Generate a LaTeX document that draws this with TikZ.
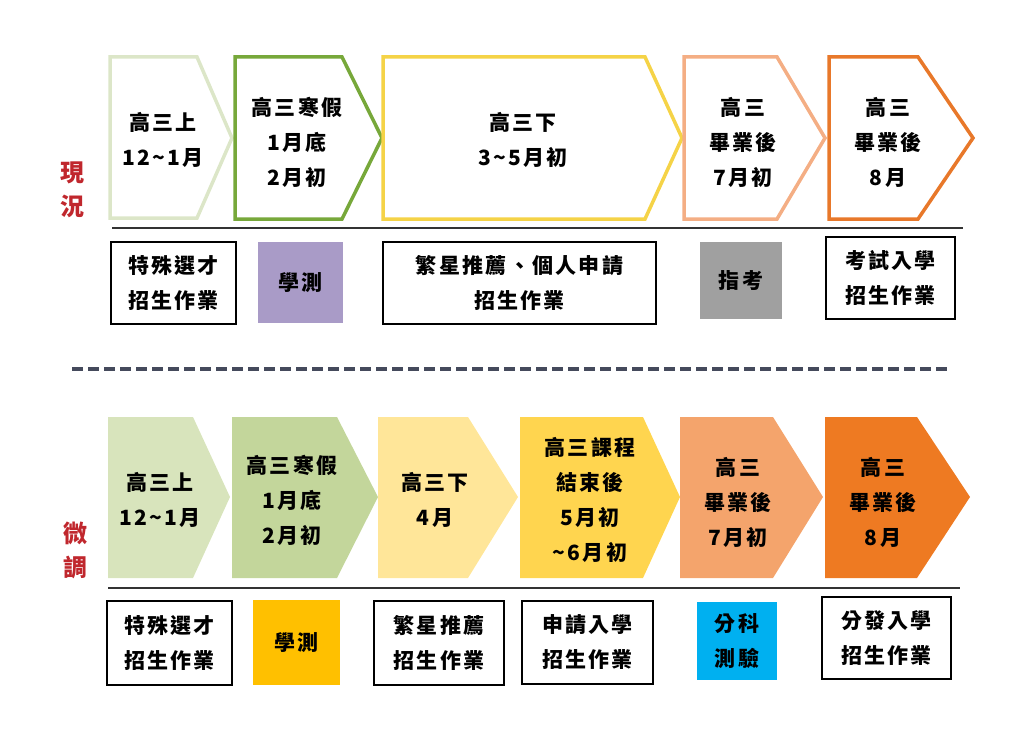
\documentclass[tikz,border=0pt]{standalone}
\usepackage{fontspec}
\setmainfont{Noto Sans CJK TC}[LetterSpace=11]
\newfontfamily\sidefont{Noto Sans CJK TC}
\definecolor{redlab}{HTML}{C0272D}
\definecolor{grnA}{HTML}{DCE6C8}
\definecolor{grnB}{HTML}{77A83A}
\definecolor{ylwA}{HTML}{F5D347}
\definecolor{orgA}{HTML}{F4AE84}
\definecolor{orgB}{HTML}{E8782A}
\definecolor{fillA}{HTML}{D8E4BC}
\definecolor{fillB}{HTML}{C3D69B}
\definecolor{fillC}{HTML}{FFE699}
\definecolor{fillD}{HTML}{FFD54F}
\definecolor{fillE}{HTML}{F4A46C}
\definecolor{fillF}{HTML}{EE7A22}
\definecolor{purp}{HTML}{A99BC7}
\definecolor{grayx}{HTML}{A0A0A0}
\definecolor{goldx}{HTML}{FFC000}
\definecolor{bluex}{HTML}{00B0F0}
\definecolor{dashc}{HTML}{454A5C}
\begin{document}
\begin{tikzpicture}[x=1pt,y=-1pt,line join=miter,
  txt/.style={font=\fontsize{21}{35}\selectfont\bfseries,align=center,inner sep=0pt},
  side/.style={font=\sidefont\fontsize{24}{34}\selectfont\bfseries,text=redlab,align=center,inner sep=0pt},
  outl/.style={line width=3.5pt},
  box/.style={draw,line width=1.4pt}]
\useasboundingbox (0,0) rectangle (1024,733);
% top row
\draw[outl,grnA] (110,57) -- (197,57) -- (232,138) -- (197,218) -- (110,218) -- cycle;
\draw[outl,grnB] (235,57) -- (342,57) -- (382,138) -- (342,219) -- (235,219) -- cycle;
\draw[outl,ylwA] (383,57) -- (645,57) -- (682,138) -- (645,219) -- (383,219) -- cycle;
\draw[outl,orgA] (684,57) -- (777,57) -- (825,138) -- (777,219) -- (684,219) -- cycle;
\draw[outl,orgB] (829,57) -- (918,57) -- (973,138) -- (918,219) -- (829,219) -- cycle;
\node[txt] (t1) at (163,140) {高三上\\12\textasciitilde1月};
\node[txt] (t2) at (297,142) {高三寒假\\1月底\\2月初};
\node[txt] (t3) at (523,140) {高三下\\3\textasciitilde5月初};
\node[txt] (t4) at (743,142) {高三\\畢業後\\7月初};
\node[txt] (t5) at (888,142) {高三\\畢業後\\8月};
\draw[line width=1.4pt,black!80] (112,228) -- (963,228);
\node[side] (now) at (72,190) {現\\況};
% top boxes
\draw[box] (111,242) rectangle (236,324);
\node[txt] (a1) at (173.5,283) {特殊選才\\招生作業};
\fill[purp] (258,242) rectangle (343,323);
\node[txt] (a2) at (300.5,282.5) {學測};
\draw[box] (383,242) rectangle (656,324);
\node[txt] (a3) at (519.5,283) {繁星推薦、個人申請\\招生作業};
\fill[grayx] (700,242) rectangle (782,319);
\node[txt] (a4) at (741,280.5) {指考};
\draw[box] (826,237) rectangle (955,319);
\node[txt] (a5) at (890.5,278) {考試入學\\招生作業};
% divider
\draw[dashc,line width=4pt,dash pattern=on 11pt off 5pt] (72,369) -- (952,369);
% bottom row
\fill[fillA] (108,417) -- (193,417) -- (230,497) -- (193,578) -- (108,578) -- cycle;
\fill[fillB] (232,417) -- (337,417) -- (378,497) -- (337,578) -- (232,578) -- cycle;
\fill[fillC] (378,417) -- (468,417) -- (518,497) -- (468,578) -- (378,578) -- cycle;
\fill[fillD] (520,417) -- (643,417) -- (680,497) -- (643,578) -- (520,578) -- cycle;
\fill[fillE] (680,417) -- (773,417) -- (823,497) -- (773,578) -- (680,578) -- cycle;
\fill[fillF] (825,417) -- (917,417) -- (970,497) -- (917,578) -- (825,578) -- cycle;
\node[txt] (b1) at (160,500) {高三上\\12\textasciitilde1月};
\node[txt] (b2) at (292,500) {高三寒假\\1月底\\2月初};
\node[txt] (b3) at (435,500) {高三下\\4月};
\node[txt] (b4) at (590,500) {高三課程\\結束後\\5月初\\\textasciitilde6月初};
\node[txt] (b5) at (738,502) {高三\\畢業後\\7月初};
\node[txt] (b6) at (883,502) {高三\\畢業後\\8月};
\draw[line width=1.4pt,black!80] (108,588) -- (960,588);
\node[side] (adj) at (75,550) {微\\調};
% bottom boxes
\draw[box] (107,601) rectangle (232,685);
\node[txt] (c1) at (169.5,643) {特殊選才\\招生作業};
\fill[goldx] (253,600) rectangle (340,685);
\node[txt] (c2) at (296.5,642.5) {學測};
\draw[box] (374,601) rectangle (504,685);
\node[txt] (c3) at (439,643) {繁星推薦\\招生作業};
\draw[box] (522,601) rectangle (653,684);
\node[txt] (c4) at (587.5,642.5) {申請入學\\招生作業};
\fill[bluex] (697,602) rectangle (777,680);
\node[txt] (c5) at (737,641) {分科\\測驗};
\draw[box] (822,597) rectangle (951,679);
\node[txt] (c6) at (886.5,638) {分發入學\\招生作業};
\end{tikzpicture}
\end{document}
